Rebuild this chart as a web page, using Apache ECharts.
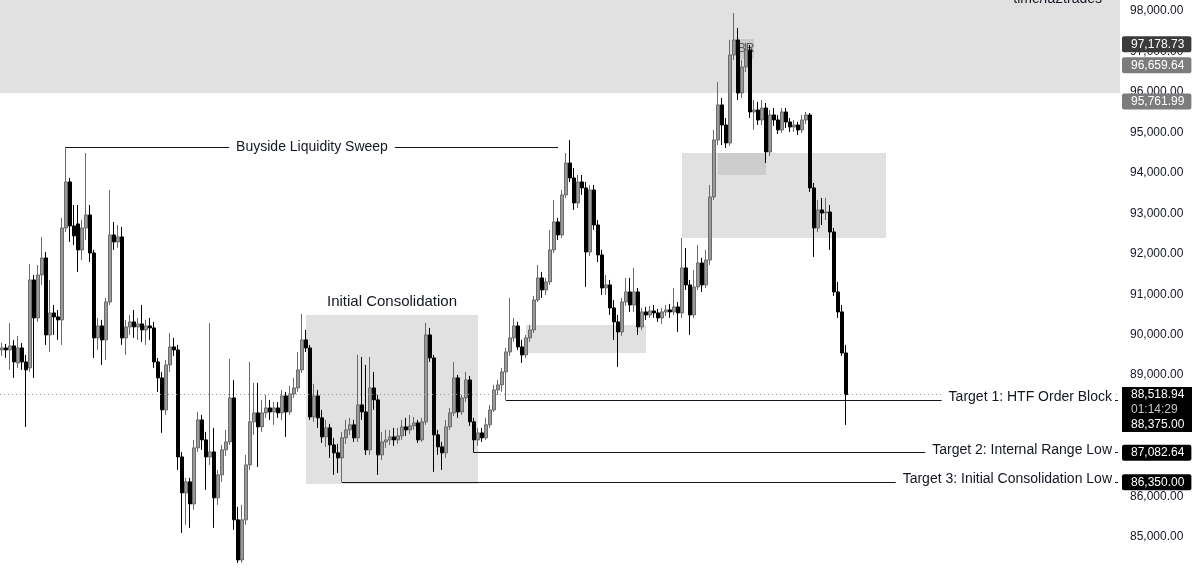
<!DOCTYPE html>
<html>
<head>
<meta charset="utf-8">
<script src="https://cdn.jsdelivr.net/npm/echarts@6/dist/echarts.min.js"></script>
<style>
html,body{margin:0;padding:0;background:#ffffff;}
#chart{width:1200px;height:574px;}
</style>
</head>
<body>
<div id="chart"></div>
<script>
// ---------- DATA (prices) ----------
// each candle: [open, close, low, high]
const ohlcEarlyRange = [
[89624,89673,89476,89797],[89673,89624,89426,89772],[89624,89723,89129,90291],[89723,89327,88932,89871],
[89302,89673,89179,89970],[89673,89327,89129,89797],[89327,89129,87721,89500],[89179,91353,89080,91748],
[91353,90414,88932,91477],[90414,91477,90316,91724],[91477,91897,91230,92416],[91897,89994,89747,92045],
[89994,90538,89574,91353],[90538,90439,89994,90735],[90439,90365,89871,90612],[90365,92638,89747,92885],
[92638,93775,92539,94640],[93775,92688,92292,93873],[92688,92441,92218,93206],[92737,92095,91551,93206],
[92095,92638,91847,92836],[92638,92959,92342,94491],[92959,92020,91798,93206],[92020,89920,89426,92095],
[89920,90217,89624,90414],[90217,89871,89253,90365],[89871,90810,89376,90909],[90810,92465,90735,93577],
[92465,92292,92095,92787],[92292,92416,92144,92712],[92416,89920,89747,92663],[89920,90192,89500,90365],
[90192,90316,89994,90488],[90316,90192,89920,90612],[90192,90266,89871,90414],[90266,90118,89821,90735],
[90118,90217,89747,90365],[90217,90167,89871,90414],[90167,89327,89179,90316],[89327,88932,88586,89426],
[88932,88141,87573,89080],[88141,89253,88017,89376],[89253,89698,89080,90044],[89698,89624,89476,89920]
];
const ohlcSellOff = [
[89624,86979,86658,89747],[86979,86090,85102,87103],[86090,86362,85300,86461],[86362,85818,85225,86461],
[85818,87202,85670,87400],[87202,87894,87103,88091],[87894,87400,87153,88017],[87400,86979,86164,87598],
[86979,87103,86782,90291],[87103,85967,85225,87697],[85967,86535,85794,86658],[86535,87153,86362,87276],
[87153,87350,87004,87647],[87350,88437,87276,89401],[88437,85423,85176,88882],[85423,84434,84360,85745],
[84434,85423,84360,85794],[85423,86782,85300,87029],[86782,87845,86658,89327],[87845,88067,87524,88808],
[88067,87721,86732,88808],[87721,88067,87598,88388],[88067,88190,87944,88512],[88190,88091,87894,88388],
[88091,88190,87771,88338],[88190,88067,87944,88338],[88067,88487,87894,88635],[88487,88091,87474,88586],
[88091,88536,88017,88734],[88536,88684,88437,88932],[88684,89129,88586,89574],[89129,89871,89055,90513]
];
const ohlcConsolidation = [
[89871,89673,89574,90118],[89673,87968,87894,89747],[87968,88487,87845,88783],[88487,87944,87697,88635],
[87944,87474,87326,88141],[87474,87697,87227,87894],[87697,87276,86955,87796],[87276,87079,86535,87450],
[87079,86955,86584,87301],[86955,87450,86350,87598],[87450,87647,87301,87894],[87647,87771,87524,87944],
[87771,87450,87350,87894],[87450,88264,87350,89500],[88264,88091,87894,89450],[88091,87153,87029,89253],
[87153,88684,87029,89450],[88684,88388,88141,89080],[88388,87029,86535,88512],[87029,87350,86905,87598],
[87350,87400,87202,87647],[87400,87474,87276,87647],[87474,87400,87252,87697],[87400,87499,87301,87697],
[87499,87721,87400,87894],[87721,87647,87499,87944],[87647,87746,87548,88017],[87746,87820,87647,87968],
[87820,87400,87326,87894],[87400,87845,87350,87944],[87845,89994,87771,90291],[89994,89426,89327,90167],
[89426,87524,86609,89500],[87524,87227,87029,87647],[87227,87079,86658,87350],[87079,87721,86955,87894],
[87721,88067,87647,88190],[88067,88932,87993,89327],[88932,88091,87944,89006],[88091,88437,88017,88512],
[88437,88882,88338,89080],[88882,87845,87746,88981],[87845,87400,87082.64,87944],[87400,87573,87252,87697],
[87573,87450,87350,87697],[87450,87771,87400,87944],[87771,88141,87697,88264],[88141,88635,88091,88759],
[88635,88759,88512,88882],[88759,89080,88586,89179]
];
const ohlcRally = [
[89080,89574,88375,89673],[89574,89920,89476,90909],[89920,90217,89821,90414],[90217,89698,89624,90316],
[89698,89500,89302,89871],[89500,89920,89426,89994],[89920,90118,89821,90241],[90118,90859,90044,90958],
[90859,91403,90810,91724],[91403,91106,90909,91551],[91106,91304,90983,91403],[91304,92095,91230,92589],
[92095,92787,92020,93330],[92787,92465,92342,92885],[92465,93454,92391,93577],[93454,94244,93379,94491],
[94244,93873,93775,94813],[93873,93256,93083,94120],[93256,93775,93132,93948],[93775,93627,93454,93948],
[93627,92045,91180,93775],[92045,93577,91946,93701],[93577,92712,92589,93701],[92712,91971,91798,92836],
[91971,91155,90983,92095],[91155,91230,90983,91477],[91230,90662,90488,91353],[90662,90316,89871,90859],
[90316,90069,89203,90488],[90069,90810,89970,90909],[90810,91057,90711,91403],[91057,90735,90563,91403],
[90735,91057,90563,91650],[91057,90192,89994,91155],[90192,90563,90118,90662],[90563,90488,90365,90686],
[90488,90587,90414,90711],[90587,90538,90414,90735],[90538,90414,90316,90637],[90414,90563,90266,90662],
[90563,90612,90464,90735],[90612,90563,90414,90760],[90563,90686,90488,91155],[90686,90538,90069,90810]
];
const ohlcPeakAndDrop = [
[90538,91650,90414,92391],[91650,91230,91106,92144],[91230,90488,89994,91353],[90488,91180,90414,91600],
[91180,91773,91106,92218],[91773,91230,91057,91897],[91230,91847,91155,92095],[91847,93404,91724,93701],
[93404,94813,93330,95060],[94813,95678,94689,96246],[95678,95183,94689,95850],[95183,94739,94615,95356],
[94739,96913,94664,97284],[96913,97284,96789,97951],[97284,95974,95801,97580],[95974,96616,95850,96789],
[96616,97037,96493,97210],[97037,95505,95356,97160],[95505,95554,95060,95801],[95554,95307,95183,95752],
[95307,95603,95183,95801],[95603,94516,94244,95727],[94516,95431,94417,95554],[95431,95307,95159,95603],
[95307,95060,94961,95431],[95060,95505,94985,95603],[95505,95258,95109,95603],[95258,95134,95010,95356],
[95134,95183,95010,95307],[95183,95060,94936,95258],[95060,95307,94985,95431],[95307,95431,95208,95505],
[95431,93627,93528,95480],[93627,92638,91922,93750],[92638,93083,92539,93330],[93083,93009,92712,93379],
[93009,93033,92836,93379],[93033,92539,92095,93206],[92539,91057,90958,92638],[91057,90563,90414,91304],
[90563,89549,89476,90735],[89549,88518.94,87770,89747]
];

// price axis: visible range and tick labels
const yMin = 84085, yMax = 98272;
const yTicks = [85000, 86000, 87000, 88000, 89000, 90000, 91000, 92000, 93000, 94000, 95000, 96000, 97000, 98000];

// levels and annotations
const lastPrice = 88518.94;
const countdownText = '01:14:29';
const levelTags = [97178.73, 96659.64, 95761.99];
const targetNames = ['Target 1: HTF Order Block', 'Target 2: Internal Range Low', 'Target 3: Initial Consolidation Low'];
const targetLevels = [88375.00, 87082.64, 86350.00];
const targetStartBar = [126, 118, 85];
const sweepLevel = 94640, sweepFromBar = 16, sweepToBar = 139;
const premiumZoneLow = 95974;
const consolidationBox = { fromBar: 76, toBar: 119, low: 86312, high: 90488 };
const fvgBoxLow  = { fromBar: 131, toBar: 161, low: 89549, high: 90241 };
const orderBlock = { fromBar: 170, toBar: 221, low: 92391, high: 94491 };
const orderBlockCore = { fromBar: 179, toBar: 191, low: 93948, high: 94491 };
const breakerBox = { fromBar: 184, toBar: 188, low: 96814, high: 97308 };
const totalBars = 280;

// ---------- CHART ----------
const ohlc = [].concat(ohlcEarlyRange, ohlcSellOff, ohlcConsolidation, ohlcRally, ohlcPeakAndDrop);
const categories = [];
for (let i = 0; i < totalBars; i++) categories.push(String(i + 1));
const lastBar = totalBars - 1;
const FONT = '"Liberation Sans", Arial, Helvetica, sans-serif';
const fmt = v => v.toLocaleString('en-US', {minimumFractionDigits: 2, maximumFractionDigits: 2});

const tagLabel = (text, bg) => ({
  show: true, position: 'end', distance: 2, formatter: text, opacity: 1,
  color: '#ffffff', backgroundColor: bg, padding: [1, 7, 1, 9], lineHeight: 14,
  fontSize: 12, fontFamily: FONT, borderRadius: 2
});
const hiddenLine = { color: 'rgba(255,255,255,0)', width: 1, opacity: 1 };
const annotLine = { color: '#131722', width: 1, type: 'solid' };
const annotLabel = text => ({
  show: true, position: 'insideEndTop', distance: 3, verticalAlign: 'middle', formatter: text,
  color: '#131722', fontSize: 14, fontFamily: FONT, backgroundColor: '#ffffff', padding: [1, 3, 1, 7]
});
const stackRow = c => ({ color: c, backgroundColor: '#000000', width: 54, height: 15, padding: [0, 7, 0, 9], lineHeight: 15, fontSize: 12, fontFamily: FONT });

const markLineData = [];
markLineData.push([
  { coord: [sweepFromBar, sweepLevel], lineStyle: annotLine,
    label: { show: true, position: 'middle', distance: 0, verticalAlign: 'middle', formatter: 'Buyside Liquidity Sweep',
      color: '#131722', fontSize: 14, fontFamily: FONT, backgroundColor: '#ffffff', padding: [1, 7, 1, 7] } },
  { coord: [sweepToBar, sweepLevel] }
]);
targetNames.forEach((name, k) => {
  markLineData.push([
    { coord: [targetStartBar[k], targetLevels[k]], lineStyle: annotLine, label: annotLabel(name) },
    { coord: [lastBar, targetLevels[k]] }
  ]);
});
markLineData.push({
  yAxis: lastPrice,
  lineStyle: { color: '#9a9a9a', width: 1, type: [1, 3] },
  label: {
    show: true, position: 'end', distance: 2, padding: [30, 0, 0, 0],
    formatter: '{p|' + fmt(lastPrice) + '}\n{t|' + countdownText + '}\n{p|' + fmt(targetLevels[0]) + '}',
    rich: { p: stackRow('#ffffff'), t: stackRow('#c4c4c4') }
  }
});
const levelBg = ['#3b3b3b', '#7c7c7c', '#7c7c7c'];
levelTags.forEach((v, k) => {
  markLineData.push({ yAxis: v, lineStyle: hiddenLine, label: tagLabel(fmt(v), levelBg[k]) });
});
[1, 2].forEach(k => {
  markLineData.push({ yAxis: targetLevels[k], lineStyle: hiddenLine, label: tagLabel(fmt(targetLevels[k]), '#000000') });
});

const boxStyle = c => ({ color: c, borderWidth: 0 });
const markAreaData = [
  [{ yAxis: premiumZoneLow, itemStyle: boxStyle('#e1e1e1') }, { yAxis: yMax }],
  [{ coord: [consolidationBox.fromBar, consolidationBox.high], itemStyle: boxStyle('#e1e1e1'),
     label: { show: true, position: 'top', distance: 6, formatter: 'Initial Consolidation', color: '#131722', fontSize: 15, fontFamily: FONT } },
   { coord: [consolidationBox.toBar, consolidationBox.low] }],
  [{ coord: [fvgBoxLow.fromBar, fvgBoxLow.high], itemStyle: boxStyle('#e1e1e1') }, { coord: [fvgBoxLow.toBar, fvgBoxLow.low] }],
  [{ coord: [orderBlock.fromBar, orderBlock.high], itemStyle: boxStyle('#e1e1e1') }, { coord: [orderBlock.toBar, orderBlock.low] }],
  [{ coord: [orderBlockCore.fromBar, orderBlockCore.high], itemStyle: boxStyle('#cdcdcd') }, { coord: [orderBlockCore.toBar, orderBlockCore.low] }],
  [{ coord: [breakerBox.fromBar, breakerBox.high], itemStyle: boxStyle('#cbcbcb'),
     label: { show: true, position: 'inside', formatter: 'BR', color: '#555555', fontSize: 12, fontFamily: FONT } },
   { coord: [breakerBox.toBar, breakerBox.low] }]
];

const chart = echarts.init(document.getElementById('chart'), null, { renderer: 'canvas' });
chart.setOption({
  animation: false,
  backgroundColor: '#ffffff',
  title: {
    text: 'time/fa2trades', right: 93, top: -13,
    textStyle: { fontSize: 14, fontWeight: 'normal', color: '#131722', fontFamily: FONT }
  },
  grid: { left: 0, right: 80, top: 0, bottom: 0, containLabel: false },
  xAxis: { type: 'category', data: categories, boundaryGap: true, show: false },
  yAxis: {
    type: 'value', position: 'right', min: yMin, max: yMax,
    axisLine: { show: false }, axisTick: { show: false }, splitLine: { show: false },
    axisLabel: { color: '#131722', fontSize: 12, fontFamily: FONT, margin: 10,
      customValues: yTicks, formatter: v => fmt(v) }
  },
  series: [{
    type: 'candlestick',
    data: ohlc,
    barWidth: 3,
    itemStyle: { color: '#9a9a9a', color0: '#000000', borderColor: '#6a6a6a', borderColor0: '#000000', borderWidth: 1 },
    markArea: { silent: true, label: { show: false }, data: markAreaData },
    markLine: { silent: true, symbol: ['none', 'none'], label: { show: false }, data: markLineData }
  }]
});
</script>
</body>
</html>
